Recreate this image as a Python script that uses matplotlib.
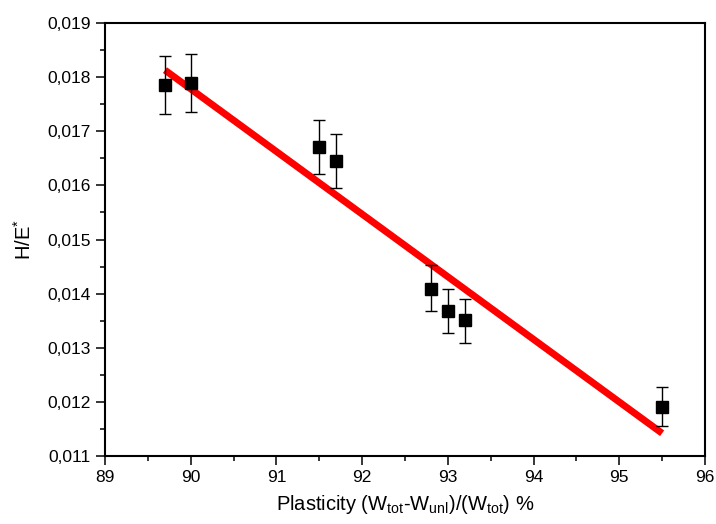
import matplotlib
matplotlib.use("Agg")
import matplotlib.pyplot as plt
from matplotlib.ticker import FuncFormatter, MultipleLocator
import numpy as np

plt.rcParams['font.family'] = ['Liberation Sans', 'DejaVu Sans']

# data
plasticity = [89.7, 90.0, 91.5, 91.7, 92.8, 93.0, 93.2, 95.5]
h_e = [0.01785, 0.01789, 0.01671, 0.01645, 0.01408, 0.01368, 0.01351, 0.01190]
err_hi = [0.01839, 0.01843, 0.01721, 0.01695, 0.01453, 0.01408, 0.01390, 0.01227]
err_lo = [0.01732, 0.01735, 0.01621, 0.01595, 0.01368, 0.01327, 0.01309, 0.01155]

fit_x = [89.7, 95.5]
fit_y = [0.01813, 0.01142]

yerr = [np.array(h_e) - np.array(err_lo), np.array(err_hi) - np.array(h_e)]

fig = plt.figure(figsize=(7.16, 5.24), dpi=100)
ax = fig.add_axes([0.1466, 0.1298, 0.838, 0.8262])

ax.errorbar(plasticity, h_e, yerr=yerr, fmt='s', color='black', markersize=8.5,
            ecolor='black', elinewidth=1, capsize=4, capthick=1, zorder=3)
ax.plot(fit_x, fit_y, color='#ff0000', linewidth=5, solid_capstyle='butt', zorder=2)

ax.set_xlim(89, 96)
ax.set_ylim(0.011, 0.019)
ax.xaxis.set_major_locator(MultipleLocator(1))
ax.xaxis.set_minor_locator(MultipleLocator(0.5))
ax.yaxis.set_major_locator(MultipleLocator(0.001))
ax.yaxis.set_minor_locator(MultipleLocator(0.0005))
ax.yaxis.set_major_formatter(FuncFormatter(lambda v, p: f"{v:.3f}".replace('.', ',')))

ax.tick_params(which='major', direction='out', length=6.5, width=1.1, labelsize=12.5,
               pad=3.5, top=False, right=False)
ax.tick_params(which='minor', direction='out', length=3.6, width=1.1, top=False, right=False)
for s in ax.spines.values():
    s.set_linewidth(1.5)

ax.set_xlabel(r'Plasticity (W$_{\mathregular{tot}}$-W$_{\mathregular{unl}}$)/(W$_{\mathregular{tot}}$) %',
              fontsize=14.5, labelpad=6)
ax.set_ylabel(r'H/E$^{\mathregular{*}}$', fontsize=14.5, labelpad=9)

plt.savefig('out.png', dpi=100)
